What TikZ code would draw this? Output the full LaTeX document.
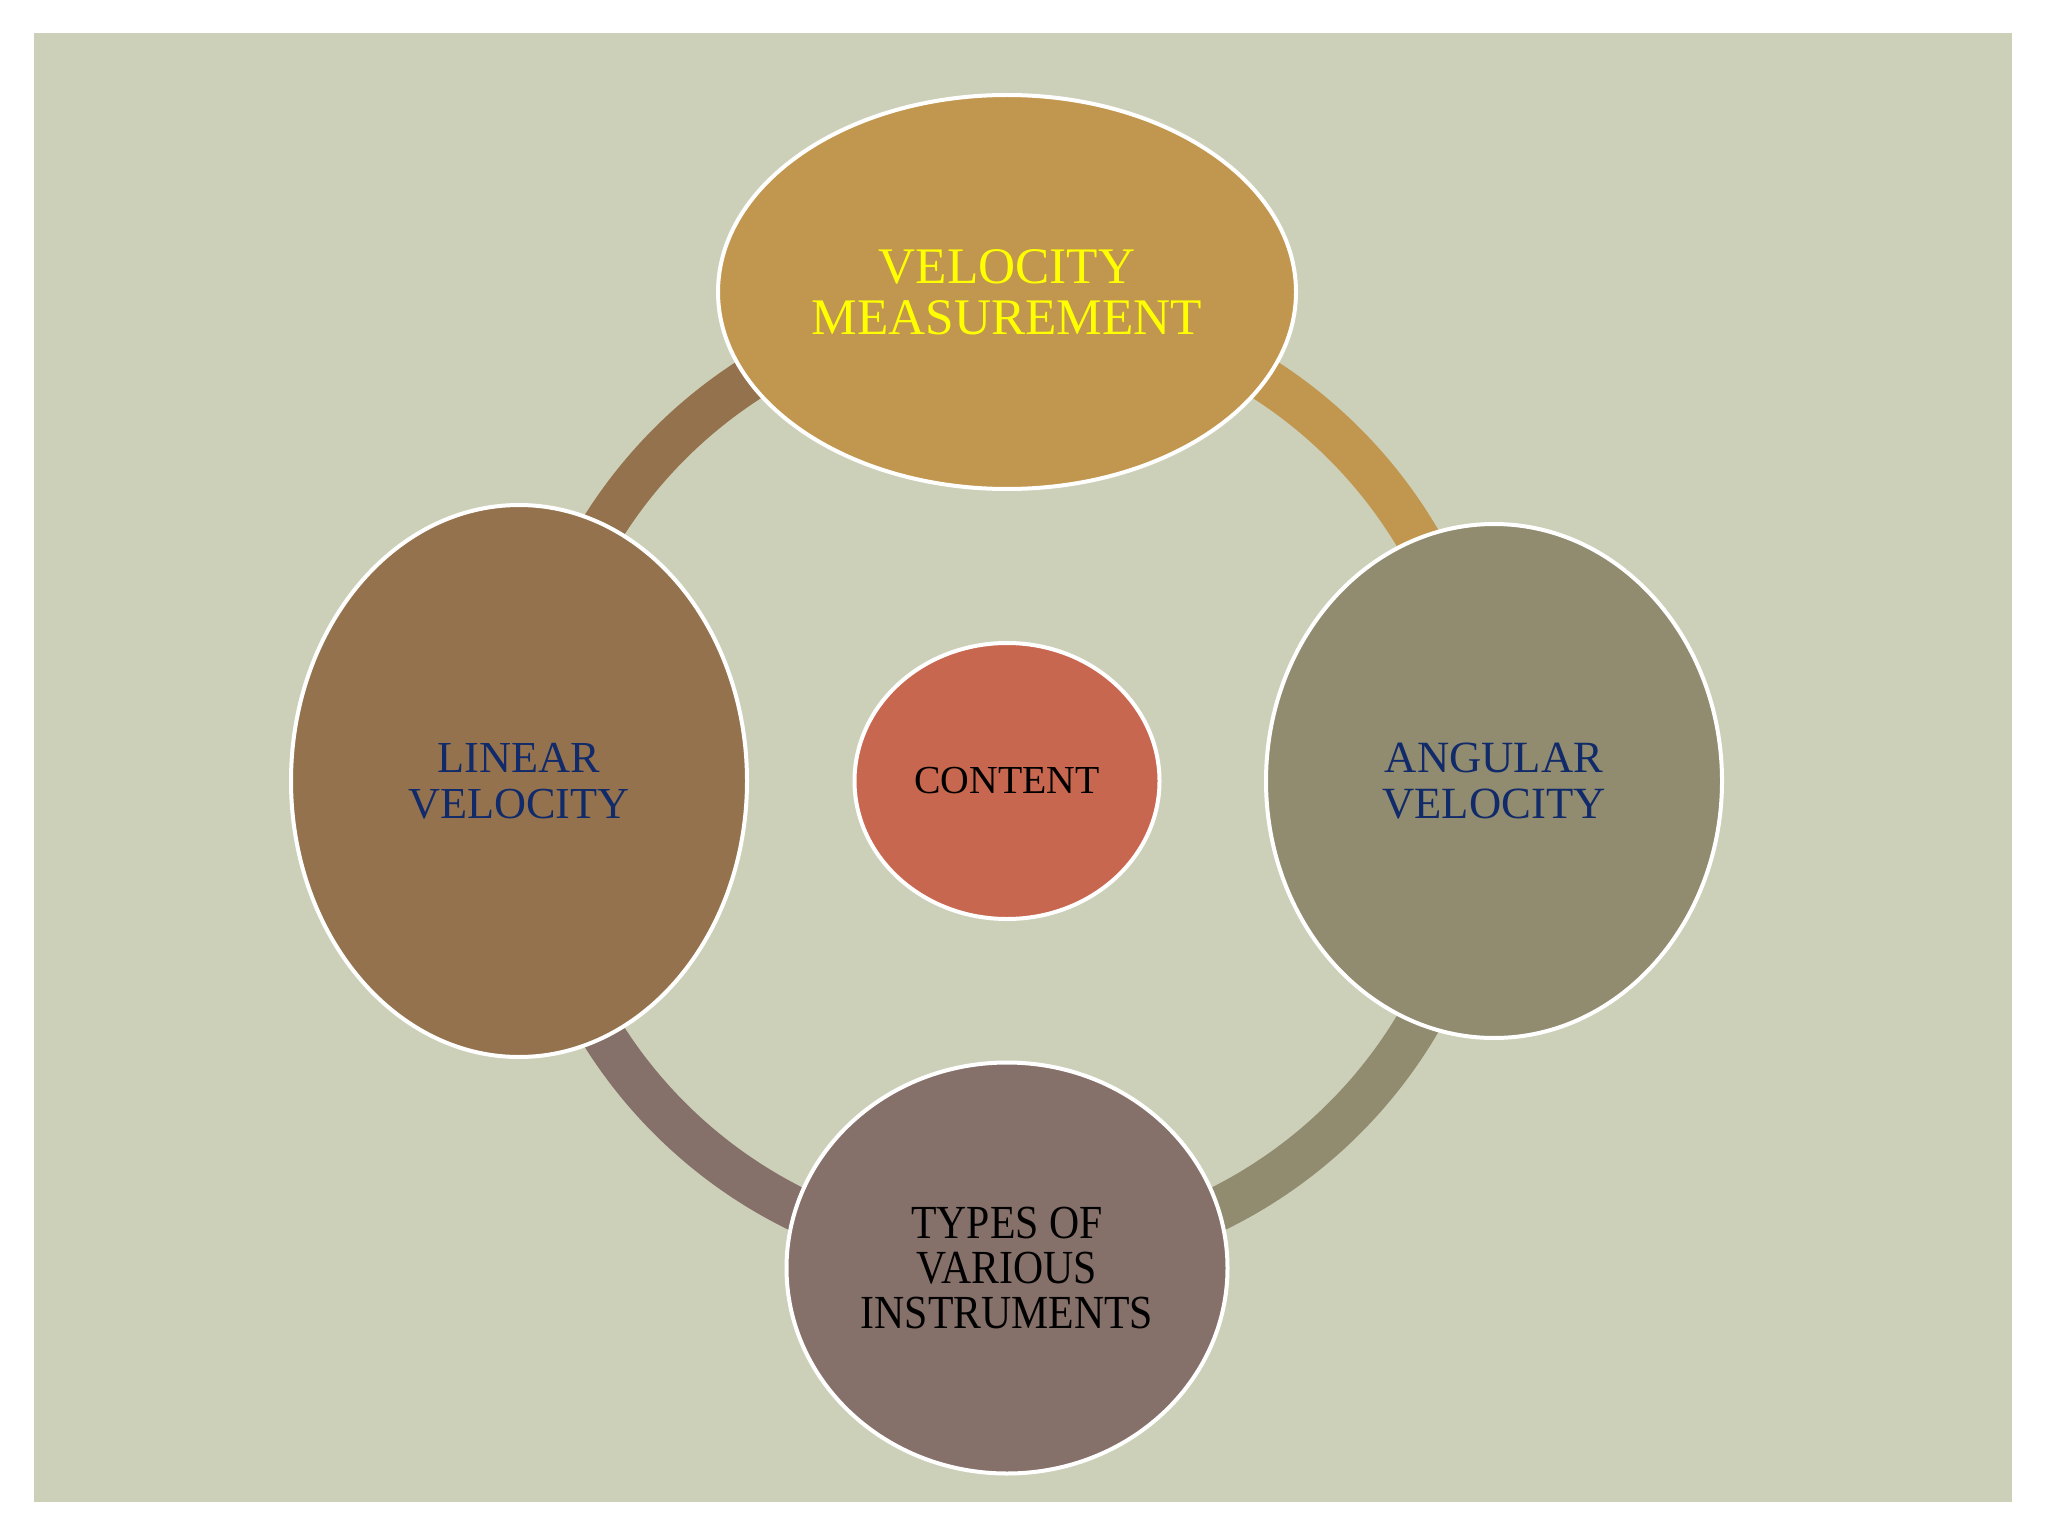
\documentclass[tikz,border=0pt]{standalone}
\usepackage{fontspec}
\setmainfont{Liberation Serif}
\newfontfamily\condserif[FakeStretch=0.88]{Liberation Serif}
\usetikzlibrary{shapes.geometric}
\definecolor{bgc}{HTML}{CDD0B9}
\definecolor{goldc}{HTML}{C1964E}
\definecolor{brownc}{HTML}{94724E}
\definecolor{olivec}{HTML}{918B70}
\definecolor{mauvec}{HTML}{86706A}
\definecolor{redc}{HTML}{C8674F}
\definecolor{navyc}{HTML}{112A6A}
\definecolor{yellowc}{HTML}{FFFF00}
\tikzset{
  bubble/.style={ellipse, draw=white, line width=0.4mm, inner sep=0pt, align=center},
  ringarc/.style={line width=4.4mm, line cap=butt}
}
\begin{document}
\begin{tikzpicture}[x=0.1mm,y=0.1mm]
\useasboundingbox (0,0) rectangle (2048,1536);
\fill[bgc] (34,34) rectangle (2012,1503);
\coordinate (ring) at (1007,755);
% ring arcs
\draw[ringarc, goldc]   (ring) ++(90:47.7mm)  arc[start angle=90,  end angle=0,   radius=47.7mm];
\draw[ringarc, olivec]  (ring) ++(0:47.7mm)   arc[start angle=0,   end angle=-90, radius=47.7mm];
\draw[ringarc, mauvec]  (ring) ++(270:47.7mm) arc[start angle=270, end angle=180, radius=47.7mm];
\draw[ringarc, brownc]  (ring) ++(180:47.7mm) arc[start angle=180, end angle=90,  radius=47.7mm];
% nodes
\node[bubble, fill=goldc, minimum width=57.8mm, minimum height=39.4mm,
      text=yellowc, font=\fontsize{14.6}{14.6}\selectfont] (top) at (1007,1244) {VELOCITY\\MEASUREMENT};
\node[bubble, fill=brownc, minimum width=45.6mm, minimum height=55.2mm,
      text=navyc, font=\fontsize{12.6}{13.1}\selectfont] (left) at (519,755) {LINEAR\\VELOCITY};
\node[bubble, fill=olivec, minimum width=45.6mm, minimum height=51.4mm,
      text=navyc, font=\fontsize{12.7}{13.2}\selectfont] (right) at (1494,755) {ANGULAR\\VELOCITY};
\node[bubble, fill=mauvec, minimum width=44.1mm, minimum height=41.1mm,
      text=black, font=\condserif\fontsize{13.5}{12.8}\selectfont] (bottom) at (1007,268) {TYPES OF\\VARIOUS\\INSTRUMENTS};
\node[bubble, fill=redc, minimum width=30.5mm, minimum height=27.6mm,
      text=black, font=\fontsize{11.3}{12}\selectfont] (center) at (ring) {CONTENT};
\end{tikzpicture}
\end{document}
